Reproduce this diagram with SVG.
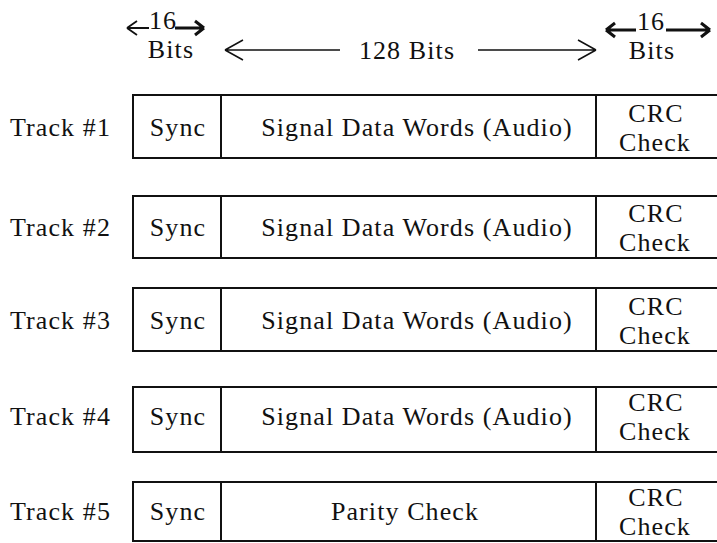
<svg xmlns="http://www.w3.org/2000/svg" width="717" height="543" viewBox="0 0 717 543">
<style>
text{font-family:"Liberation Serif","Times New Roman",serif;font-size:26px;fill:#111;letter-spacing:1.1px}
.c{text-anchor:middle}
.box{fill:none;stroke:#111;stroke-width:2}
.ln{stroke:#111;stroke-width:1.8;fill:none}
.lnb{stroke:#111;stroke-width:3;fill:none}
.ar{stroke:#111;stroke-width:1.5;fill:none}
</style>
<rect width="717" height="543" fill="#fff"/>
<g id="header">
<text class="c" x="163" y="29">16</text>
<text class="c" x="171" y="58">Bits</text>
<text class="c" x="407" y="59">128 Bits</text>
<text class="c" x="651" y="30">16</text>
<text class="c" x="652" y="59">Bits</text>
</g>
<g id="connectors">
<path class="ln" d="M127 28H149M127 28l10 -7M127 28l10 7"/>
<path class="lnb" d="M175 28H204M204 28l-9 -7M204 28l-9 7"/>
<path class="ar" d="M225 50H340M225 50l18 -10M225 50l18 10"/>
<path class="ar" d="M478 50H596M596 50l-18 -10M596 50l-18 10"/>
<path class="lnb" d="M606 30H636M606 30l9 -7M606 30l9 7"/>
<path class="lnb" d="M666 30H710M710 30l-9 -7M710 30l-9 7"/>
</g>
<g id="track1">
<text x="10" y="136">Track #1</text>
<path class="box" d="M718 95H133V158H718M221 95V158M596 95V158"/>
<text class="c" x="178" y="136">Sync</text>
<text class="c" x="417" y="136">Signal Data Words (Audio)</text>
<text class="c" x="656" y="122">CRC</text>
<text class="c" x="655" y="151">Check</text>
</g>
<g id="track2">
<text x="10" y="236">Track #2</text>
<path class="box" d="M718 196H133V258H718M221 196V258M596 196V258"/>
<text class="c" x="178" y="236">Sync</text>
<text class="c" x="417" y="236">Signal Data Words (Audio)</text>
<text class="c" x="656" y="222">CRC</text>
<text class="c" x="655" y="251">Check</text>
</g>
<g id="track3">
<text x="10" y="329">Track #3</text>
<path class="box" d="M718 288H133V351H718M221 288V351M596 288V351"/>
<text class="c" x="178" y="329">Sync</text>
<text class="c" x="417" y="329">Signal Data Words (Audio)</text>
<text class="c" x="656" y="315">CRC</text>
<text class="c" x="655" y="344">Check</text>
</g>
<g id="track4">
<text x="10" y="425">Track #4</text>
<path class="box" d="M718 387H133V452H718M221 387V452M596 387V452"/>
<text class="c" x="178" y="425">Sync</text>
<text class="c" x="417" y="425">Signal Data Words (Audio)</text>
<text class="c" x="656" y="411">CRC</text>
<text class="c" x="655" y="440">Check</text>
</g>
<g id="track5">
<text x="10" y="520">Track #5</text>
<path class="box" d="M718 482H133V541H718M221 482V541M596 482V541"/>
<text class="c" x="178" y="520">Sync</text>
<text class="c" x="405" y="520">Parity Check</text>
<text class="c" x="656" y="506">CRC</text>
<text class="c" x="655" y="535">Check</text>
</g>
</svg>
